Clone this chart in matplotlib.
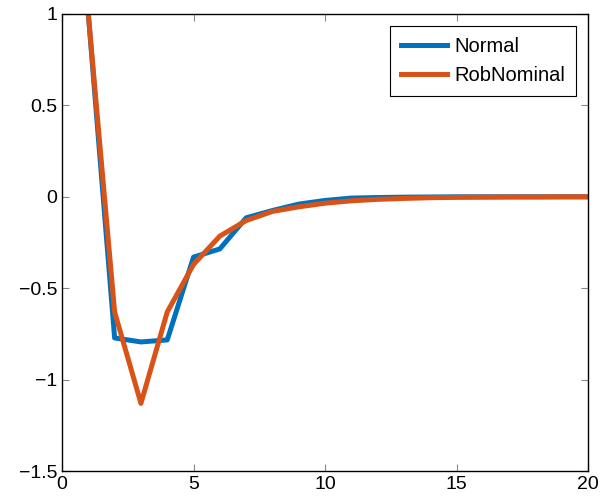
import matplotlib
matplotlib.use("Agg")
import matplotlib.pyplot as plt

plt.rcParams['font.family'] = ['Liberation Sans', 'DejaVu Sans']

x = list(range(1, 21))
normal = [1.0, -0.772, -0.794, -0.783, -0.33, -0.285, -0.115, -0.075, -0.04,
          -0.02, -0.007, -0.004, -0.002, -0.001, 0.0, 0.0, 0.0, 0.0, 0.0, 0.0]
rob_nominal = [1.0, -0.63, -1.13, -0.63, -0.37, -0.215, -0.13, -0.08, -0.055,
               -0.035, -0.022, -0.014, -0.009, -0.005, -0.003, -0.002, -0.001,
               -0.001, 0.0, 0.0]

fig = plt.figure(figsize=(6.02, 4.96), dpi=100)
ax = fig.add_axes([0.103, 0.0504, 0.874, 0.9214])

ax.plot(x, normal, color='#0072BD', lw=3.6, label='Normal')
ax.plot(x, rob_nominal, color='#D95319', lw=3.6, label='RobNominal')

ax.set_xlim(0, 20)
ax.set_ylim(-1.5, 1)
ax.set_xticks([0, 5, 10, 15, 20])
ax.set_yticks([-1.5, -1, -0.5, 0, 0.5, 1])
ax.set_yticklabels(['\u22121.5', '\u22121', '\u22120.5', '0', '0.5', '1'])
ax.tick_params(direction='in', top=True, right=True, labelsize=14,
               color='#888888', length=5)
for s in ax.spines.values():
    s.set_linewidth(1.0)

leg = ax.legend(loc='upper right', fontsize=14.5, fancybox=False,
                edgecolor='black', framealpha=1, handlelength=2.3,
                handletextpad=0.35, borderpad=0.55, labelspacing=0.5,
                borderaxespad=0.6)
leg.get_frame().set_linewidth(0.8)

fig.savefig('out.png', dpi=100)
